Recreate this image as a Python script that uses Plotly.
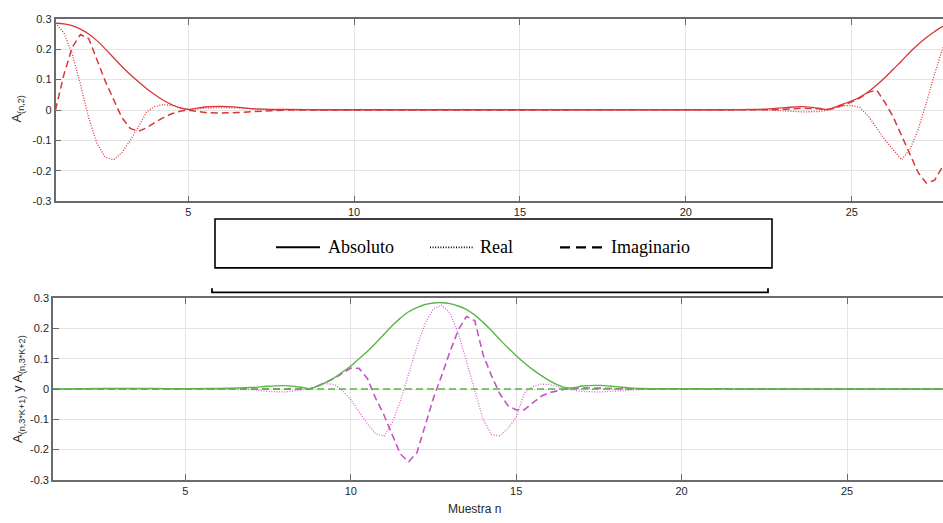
import plotly.graph_objects as go

W, H = 943, 523

# ---------------- data ----------------
x_top = [1.0, 1.25, 1.5, 1.75, 2.0, 2.25, 2.5, 2.75, 3.0, 3.25, 3.5, 3.75, 4.0, 4.25, 4.5, 4.75, 5.0,
         5.5, 6.0, 6.5, 7.0, 7.5, 8.0,
         9.0, 10.0, 11.0, 12.0, 13.0, 14.0, 15.0, 16.0, 17.0, 18.0, 19.0, 20.0, 21.0, 22.0,
         22.5, 23.0, 23.5, 24.0,
         24.25, 24.5, 24.75, 25.0, 25.25, 25.5, 25.75, 26.0, 26.25, 26.5, 26.75, 27.0, 27.25, 27.5, 27.75, 28.0]
abs_top = [.285, .283, .277, .266, .250, .228, .201, .172, .143, .117, .093, .070, .050, .032, .018, .007, .002,
           .010, .012, .009, .004, .002, .002,
           .001, .001, .001, .001, .001, .001, .001, .001, .001, .001, .001, .001, .001, .002,
           .004, .008, .011, .006,
           .002, .010, .020, .030, .043, .060, .082, .107, .134, .161, .190, .215, .238, .258, .275, .283]
real_top = [.285, .255, .185, .085, -.025, -.110, -.155, -.163, -.140, -.100, -.055, -.005, .012, .018, .015, .008, .002,
            .006, .008, .007, .003, .001, .000,
            .000, .000, .000, .000, .000, .000, .000, .000, .000, .000, .000, .000, .000, .000,
            .000, -.003, -.006, -.005,
            -.001, .008, .014, .015, .008, -.020, -.060, -.098, -.130, -.163, -.130, -.065, .025, .120, .205, .260]
imag_top = [0.0, .115, .205, .248, .235, .165, .095, .035, -.025, -.060, -.070, -.058, -.040, -.025, -.012, -.004, .000,
            -.008, -.010, -.008, -.004, -.002, .000,
            .000, .000, .000, .000, .000, .000, .000, .000, .000, .000, .000, .000, .000, .000,
            .001, .003, .006, .004,
            .001, .006, .016, .027, .040, .058, .066, .025, -.023, -.085, -.145, -.205, -.240, -.230, -.183, -.120]

x_bot = [1, 2, 3, 4, 5, 6, 7, 7.5, 8, 8.5,
         8.75, 9.0, 9.25, 9.5, 9.75, 10.0, 10.25, 10.5, 10.75, 11.0, 11.25, 11.5, 11.75, 12.0, 12.25, 12.5,
         12.75, 13.0, 13.25, 13.5, 13.75, 14.0, 14.25, 14.5, 14.75, 15.0, 15.25, 15.5, 15.75, 16.0, 16.25, 16.5, 16.75,
         17, 17.5, 18, 18.5, 19, 20, 21, 22, 23, 24, 25, 26, 27, 28]
abs_bot = [.000, .001, .002, .002, .001, .002, .005, .009, .011, .006,
           .001, .010, .022, .037, .056, .076, .100, .124, .151, .180, .209, .234, .255, .269, .279, .284,
           .285, .282, .274, .262, .244, .220, .193, .164, .136, .110, .086, .064, .045, .028, .014, .004, .004,
           .010, .012, .008, .003, .001, .001, .001, .000, .000, .000, .000, .000, .000, .000]
real_bot = [.000, .000, .001, .001, .000, -.001, -.002, -.008, -.010, -.005,
            .000, .010, .018, .015, -.005, -.035, -.075, -.115, -.148, -.156, -.112, -.040, .050, .140, .218, .265,
            .277, .250, .185, .090, -.012, -.100, -.150, -.155, -.130, -.093, -.012, .008, .016, .015, .008, .000, -.004,
            -.008, -.010, -.006, -.002, .000, .000, .000, .000, .000, .000, .000, .000, .000, .000]
imag_bot = [.000, .000, .000, .001, .000, .001, .002, .002, .001, .000,
            .000, .010, .022, .035, .052, .069, .068, .035, -.030, -.085, -.150, -.215, -.240, -.210, -.120, -.030,
            .045, .124, .195, .240, .225, .113, .045, -.015, -.055, -.069, -.068, -.045, -.024, -.012, -.005, .000, .002,
            .004, .003, .001, .000, .000, .000, .000, .000, .000, .000, .000, .000, .000, .000]
x_zero = [1, 28]
imag2_bot = [0.0, 0.0]

x_ticks = [5, 10, 15, 20, 25]
y_ticks = [-0.3, -0.2, -0.1, 0, 0.1, 0.2, 0.3]
y_ticktext = ['-0.3', '-0.2', '-0.1', '0', '0.1', '0.2', '0.3']
legend_names = ['Absoluto', 'Real', 'Imaginario']

# ---------------- styles ----------------
RED = '#d9363a'
GREEN = '#5ab446'
MAG_DOT = '#d862d2'
MAG_DASH = '#c257c2'
DOT = '1px,1.6px'
DASH = '7px,4px'


def px(x):
    return x / W


def py(y):
    return 1 - y / H


fig = go.Figure()

# top panel
fig.add_trace(go.Scatter(x=x_top, y=real_top, mode='lines', line=dict(color=RED, width=1.3, dash=DOT),
                         showlegend=False, xaxis='x', yaxis='y'))
fig.add_trace(go.Scatter(x=x_top, y=imag_top, mode='lines', line=dict(color=RED, width=1.5, dash=DASH),
                         showlegend=False, xaxis='x', yaxis='y'))
fig.add_trace(go.Scatter(x=x_top, y=abs_top, mode='lines', line=dict(color=RED, width=1.3, shape='spline'),
                         showlegend=False, xaxis='x', yaxis='y'))

# bottom panel
fig.add_trace(go.Scatter(x=x_bot, y=real_bot, mode='lines', line=dict(color=MAG_DOT, width=1.3, dash=DOT),
                         showlegend=False, xaxis='x2', yaxis='y2'))
fig.add_trace(go.Scatter(x=x_bot, y=imag_bot, mode='lines', line=dict(color=MAG_DASH, width=1.6, dash=DASH),
                         showlegend=False, xaxis='x2', yaxis='y2'))
fig.add_trace(go.Scatter(x=x_bot, y=abs_bot, mode='lines', line=dict(color=GREEN, width=1.4, shape='spline'),
                         showlegend=False, xaxis='x2', yaxis='y2'))
fig.add_trace(go.Scatter(x=x_zero, y=imag2_bot, mode='lines', line=dict(color=GREEN, width=1.4, dash=DASH),
                         showlegend=False, xaxis='x2', yaxis='y2'))

tickfont = dict(family='Liberation Sans, Arial, sans-serif', size=11, color='#262626')
common = dict(showline=True, linecolor='#6b6b6b', linewidth=1.6, ticks='inside', ticklen=6,
              tickcolor='#6b6b6b', tickwidth=1.3, showgrid=True, gridcolor='#e4e4e4', gridwidth=1,
              zeroline=False, tickfont=tickfont, fixedrange=True)

# legend (drawn as a boxed key between the panels)
LEG_Y = 247
leg_samples = [(276, 320, 'solid', 2.0), (430, 473, '1px,1.6px', 1.6), (560, 602, '10px,6px', 2.2)]
leg_text_x = [326, 478, 609]

shapes = [
    dict(type='rect', xref='paper', yref='paper', x0=px(215), x1=px(772), y0=py(268), y1=py(218),
         line=dict(color='black', width=1.6), fillcolor='white', layer='above'),
    dict(type='path', xref='paper', yref='paper',
         path=f'M {px(212)} {py(289)} L {px(212)} {py(293)} L {px(768)} {py(293)} L {px(768)} {py(289)}',
         line=dict(color='black', width=1.8), layer='above'),
]
for x0, x1, dash, w in leg_samples:
    shapes.append(dict(type='line', xref='paper', yref='paper', x0=px(x0), x1=px(x1), y0=py(LEG_Y), y1=py(LEG_Y),
                       line=dict(color='black', width=w, dash=dash), layer='above'))

annotations = [
    dict(text='A<sub>(n,2)</sub>', xref='paper', yref='paper', x=px(18), y=py(106), showarrow=False,
         textangle=-90, xanchor='center', yanchor='middle',
         font=dict(family='Liberation Sans, Arial, sans-serif', size=13, color='#262626')),
    dict(text='A<sub>(n,3*K+1)</sub> y A<sub>(n,3*K+2)</sub>', xref='paper', yref='paper', x=px(18), y=py(392),
         showarrow=False, textangle=-90, xanchor='center', yanchor='middle',
         font=dict(family='Liberation Sans, Arial, sans-serif', size=13, color='#262626')),
    dict(text='Muestra n', xref='paper', yref='paper', x=px(474), y=py(515), showarrow=False,
         xanchor='center', yanchor='middle',
         font=dict(family='Liberation Sans, Arial, sans-serif', size=12, color='#262626')),
]
for name, tx in zip(legend_names, leg_text_x):
    annotations.append(dict(text=name, xref='paper', yref='paper', x=px(tx), y=py(LEG_Y), showarrow=False,
                            xanchor='left', yanchor='middle',
                            font=dict(family='Liberation Serif, Times New Roman, serif', size=18, color='black')))

fig.update_layout(
    width=W, height=H, margin=dict(l=0, r=0, t=0, b=0),
    paper_bgcolor='white', plot_bgcolor='white', showlegend=False,
    xaxis=dict(domain=[px(55.5), 1], range=[1, 27.75], tickvals=x_ticks, mirror='allticks', anchor='y', **common),
    yaxis=dict(domain=[py(200), py(13)], range=[-0.3, 0.3], tickvals=y_ticks, ticktext=y_ticktext,
               anchor='x', **common),
    xaxis2=dict(domain=[px(53), 1], range=[1, 27.9], tickvals=x_ticks, mirror='allticks', anchor='y2', **common),
    yaxis2=dict(domain=[py(485), py(299)], range=[-0.3, 0.3], tickvals=y_ticks, ticktext=y_ticktext,
                anchor='x2', **common),
    shapes=shapes,
    annotations=annotations,
)

# remove the default page margin so the figure fills the window exactly
fig.write_html('out.html', config={'displayModeBar': False},
               post_script="document.body.style.margin='0';document.body.style.overflow='hidden';"
                           "document.documentElement.style.overflow='hidden';")
